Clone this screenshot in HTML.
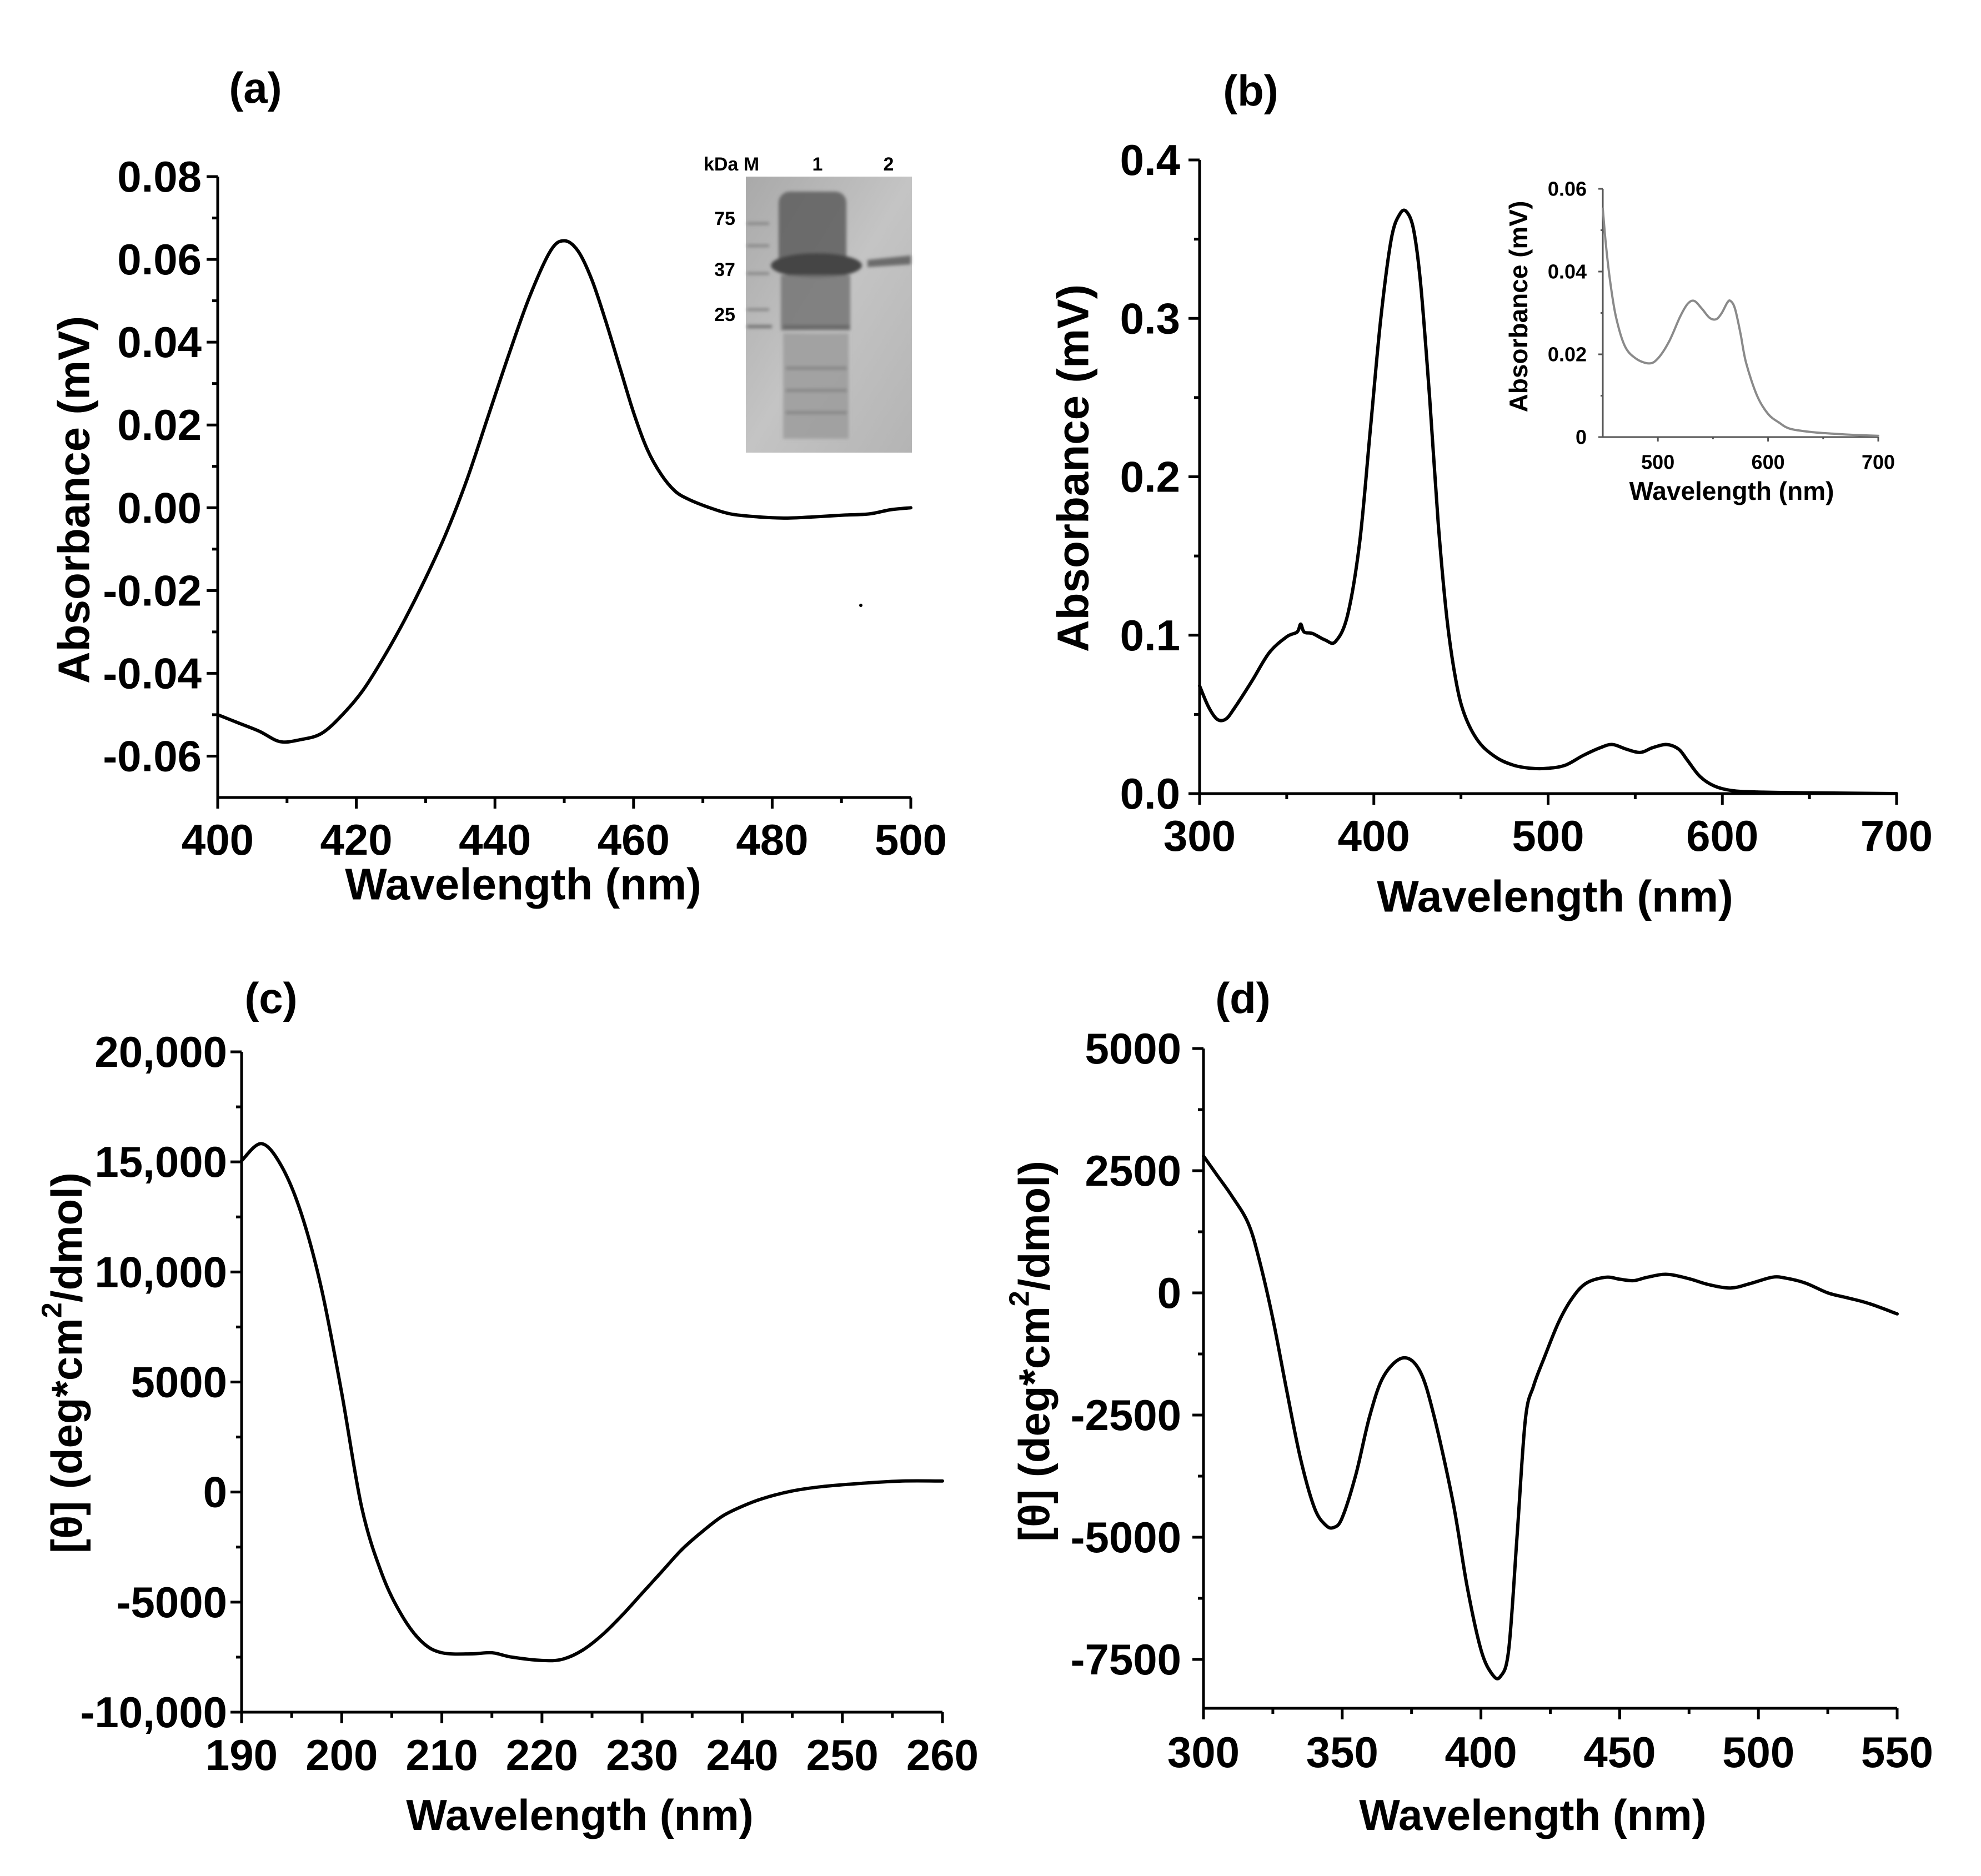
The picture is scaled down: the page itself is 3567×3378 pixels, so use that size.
<!DOCTYPE html>
<html><head><meta charset="utf-8"><style>
html,body{margin:0;padding:0;background:#fff;}
svg{display:block;}
text{font-family:"Liberation Sans",Arial,sans-serif;font-weight:bold;fill:#000;}
</style></head><body>
<svg id="fig" width="3567" height="3378" viewBox="0 0 3567 3378" xmlns="http://www.w3.org/2000/svg">
<rect x="0" y="0" width="3567" height="3378" fill="#fff"/>
<g id="gel">
  <defs>
    <linearGradient id="gelbg" x1="0" y1="0" x2="1" y2="1">
      <stop offset="0" stop-color="#a9a9a9"/><stop offset="0.5" stop-color="#c4c4c4"/><stop offset="1" stop-color="#b4b4b4"/>
    </linearGradient>
    <filter id="blur"><feGaussianBlur stdDeviation="3"/></filter>
  </defs>
  <rect x="1343" y="318" width="299" height="497" fill="url(#gelbg)"/>
  <g filter="url(#blur)">
    <rect x="1402" y="345" width="122" height="145" rx="20" fill="#5e5e5e" opacity="0.85"/>
    <ellipse cx="1470" cy="478" rx="82" ry="22" fill="#454545"/>
    <rect x="1406" y="495" width="125" height="100" fill="#767676" opacity="0.85"/>
    <rect x="1410" y="600" width="118" height="190" fill="#9a9a9a" opacity="0.8"/>
    <rect x="1410" y="585" width="120" height="8" fill="#6a6a6a"/>
    <rect x="1415" y="660" width="110" height="6" fill="#888"/>
    <rect x="1415" y="700" width="110" height="6" fill="#888"/>
    <rect x="1415" y="740" width="110" height="6" fill="#888"/>
    <rect x="1345" y="400" width="40" height="5" fill="#888"/>
    <rect x="1345" y="440" width="40" height="5" fill="#888"/>
    <rect x="1345" y="490" width="40" height="5" fill="#888"/>
    <rect x="1345" y="555" width="40" height="5" fill="#888"/>
    <rect x="1345" y="585" width="45" height="6" fill="#777"/>
    <path d="M1562 468 L1640 460 L1640 476 L1562 481 Z" fill="#6c6c6c"/>
  </g>
  <text x="1317" y="307" font-size="34" text-anchor="middle">kDa M</text>
  <text x="1472" y="307" font-size="34" text-anchor="middle">1</text>
  <text x="1600" y="307" font-size="34" text-anchor="middle">2</text>
  <text x="1305" y="405" font-size="34" text-anchor="middle">75</text>
  <text x="1305" y="497" font-size="34" text-anchor="middle">37</text>
  <text x="1305" y="578" font-size="34" text-anchor="middle">25</text>
</g>
<circle cx="1550" cy="1090" r="3" fill="#000"/>
</svg>
<script>
// ---- Panel (a) data ----
const aWavelength = [400,403,406,409,412,415,418,421,424,427,430,433,436,439,442,445,448,450,452,454,456,458,460,462,464,466,468,471,474,478,482,486,490,494,497,500];
const aAbsorbance = [-0.050,-0.052,-0.054,-0.0565,-0.056,-0.0545,-0.050,-0.044,-0.036,-0.027,-0.017,-0.006,0.007,0.022,0.037,0.051,0.062,0.0645,0.062,0.055,0.045,0.034,0.023,0.014,0.008,0.004,0.002,0.000,-0.0015,-0.0022,-0.0025,-0.0022,-0.0018,-0.0015,-0.0005,0.000];
const aXTicks = [400,420,440,460,480,500];
const aYTicks = [-0.06,-0.04,-0.02,0.00,0.02,0.04,0.06,0.08];
const aYTickLabels = ["-0.06","-0.04","-0.02","0.00","0.02","0.04","0.06","0.08"];
// ---- Panel (b) data ----
const bWavelength = [300,305,310,315,320,330,340,350,356,358,360,365,372,378,385,392,398,404,410,415,419,423,427,432,437,442,447,452,460,470,480,490,500,510,520,530,537,545,553,560,568,575,580,587,595,605,620,650,700];
const bAbsorbance = [0.068,0.055,0.047,0.047,0.054,0.071,0.089,0.099,0.102,0.107,0.102,0.101,0.097,0.096,0.113,0.160,0.230,0.300,0.350,0.366,0.367,0.355,0.320,0.250,0.170,0.110,0.072,0.050,0.033,0.023,0.018,0.016,0.016,0.018,0.024,0.029,0.031,0.028,0.026,0.029,0.031,0.028,0.021,0.011,0.005,0.002,0.001,0.0005,0.0];
const bXTicks = [300,400,500,600,700];
const bYTicks = [0.0,0.1,0.2,0.3,0.4];
const bYTickLabels = ["0.0","0.1","0.2","0.3","0.4"];
// ---- Panel (b) inset data ----
const iWavelength = [450,453,457,462,470,480,492,500,510,520,527,533,540,547,553,558,563,566,570,575,580,590,600,610,620,640,660,680,700];
const iAbsorbance = [0.0552,0.046,0.037,0.029,0.022,0.019,0.0178,0.019,0.023,0.029,0.0322,0.0329,0.031,0.0288,0.0285,0.030,0.0325,0.0329,0.031,0.025,0.018,0.010,0.0056,0.0035,0.002,0.0012,0.0008,0.0005,0.0003];
const iXTicks = [500,600,700];
const iYTicks = [0,0.02,0.04,0.06];
const iYTickLabels = ["0","0.02","0.04","0.06"];
// ---- Panel (c) data ----
const cWavelength = [190,192,194,196,198,200,202,204,206,208,210,213,215,217,220,222,224,226,228,230,232,234,236,238,240,242,245,248,252,256,260];
const cEllipticity = [15050,15830,14800,12600,9200,4500,-700,-3700,-5600,-6800,-7300,-7350,-7300,-7500,-7650,-7600,-7200,-6500,-5600,-4600,-3600,-2600,-1800,-1100,-650,-300,50,250,400,500,500];
const cXTicks = [190,200,210,220,230,240,250,260];
const cYTicks = [-10000,-5000,0,5000,10000,15000,20000];
const cYTickLabels = ["-10,000","-5000","0","5000","10,000","15,000","20,000"];
// ---- Panel (d) data ----
const dWavelength = [300,305,310,316,320,325,330,335,340,344,347,350,355,360,365,372,378,383,390,395,400,404,407,410,413,416,419,423,428,433,438,445,450,455,460,467,475,482,490,497,505,510,517,525,532,540,550];
const dEllipticity = [2800,2400,2000,1440,700,-530,-2000,-3400,-4400,-4750,-4800,-4600,-3700,-2500,-1700,-1330,-1600,-2500,-4300,-6000,-7300,-7800,-7850,-7300,-5000,-2600,-1900,-1300,-600,-100,200,320,280,250,320,380,290,170,100,190,320,300,200,0,-100,-220,-430];
const dXTicks = [300,350,400,450,500,550];
const dYTicks = [-7500,-5000,-2500,0,2500,5000];
const dYTickLabels = ["-7500","-5000","-2500","0","2500","5000"];

const NS = "http://www.w3.org/2000/svg";
const svg = document.getElementById('fig');
function mk(tag, attrs, parent){
  const e = document.createElementNS(NS, tag);
  for (const k in attrs) e.setAttribute(k, attrs[k]);
  (parent||svg).appendChild(e);
  return e;
}
function linScale(d0,d1,r0,r1){ return v => r0 + (v-d0)/(d1-d0)*(r1-r0); }
function smoothPath(pts){
  let d = "M" + pts[0][0].toFixed(1) + " " + pts[0][1].toFixed(1);
  for (let i=0;i<pts.length-1;i++){
    const p0 = pts[Math.max(0,i-1)], p1 = pts[i], p2 = pts[i+1], p3 = pts[Math.min(pts.length-1,i+2)];
    const c1x = p1[0]+(p2[0]-p0[0])/6, c1y = p1[1]+(p2[1]-p0[1])/6;
    const c2x = p2[0]-(p3[0]-p1[0])/6, c2y = p2[1]-(p3[1]-p1[1])/6;
    d += " C"+c1x.toFixed(1)+" "+c1y.toFixed(1)+" "+c2x.toFixed(1)+" "+c2y.toFixed(1)+" "+p2[0].toFixed(1)+" "+p2[1].toFixed(1);
  }
  return d;
}

function drawPanel(cfg){
  const g = mk('g', {});
  
  
  const sx = linScale(cfg.xd[0], cfg.xd[1], cfg.xr[0], cfg.xr[1]);
  const sy = linScale(cfg.yd[0], cfg.yd[1], cfg.yr[0], cfg.yr[1]);
  const sw = cfg.axisW, tl = cfg.tickLen, col = cfg.color;
  const xa = mk('line', {x1:cfg.xr[0]-sw/2, y1:cfg.yr[0], x2:cfg.xr[1], y2:cfg.yr[0], stroke:col, 'stroke-width':sw}, g);
  
  
  const ya = mk('line', {x1:cfg.xr[0], y1:cfg.yr[0]+sw/2, x2:cfg.xr[0], y2:cfg.yr[1], stroke:col, 'stroke-width':sw}, g);
  
  
  const xt = cfg.xTicks;
  for (let i=0;i<xt.length;i++){
    const x = sx(xt[i]);
    const t = mk('line', {x1:x, y1:cfg.yr[0], x2:x, y2:cfg.yr[0]+tl, stroke:col, 'stroke-width':sw}, g);
    
    
    if (i < xt.length-1){
      const xm = sx((xt[i]+xt[i+1])/2);
      const m = mk('line', {x1:xm, y1:cfg.yr[0], x2:xm, y2:cfg.yr[0]+tl*0.5, stroke:col, 'stroke-width':sw}, g);
      
      
    }
    const lb = mk('text', {x:x, y:cfg.xLabelY, 'font-size':cfg.tickFont, 'text-anchor':'middle', 'dominant-baseline':'central', fill:col}, g);
    lb.textContent = xt[i];
    
    
  }
  const yt = cfg.yTicks;
  for (let i=0;i<yt.length;i++){
    const y = sy(yt[i]);
    const t = mk('line', {x1:cfg.xr[0]-tl, y1:y, x2:cfg.xr[0], y2:y, stroke:col, 'stroke-width':sw}, g);
    
    
    if (i < yt.length-1){
      const ym = sy((yt[i]+yt[i+1])/2);
      const m = mk('line', {x1:cfg.xr[0]-tl*0.5, y1:ym, x2:cfg.xr[0], y2:ym, stroke:col, 'stroke-width':sw}, g);
      
      
    }
    const lb = mk('text', {x:cfg.yLabelX, y:y, 'font-size':cfg.tickFont, 'text-anchor':'end', 'dominant-baseline':'central', fill:col}, g);
    lb.textContent = cfg.yTickLabels[i];
    
    
  }
  const pts = cfg.xs.map((v,i)=>[sx(v), sy(cfg.ys[i])]);
  const p = mk('path', {d:smoothPath(pts), fill:'none', stroke:cfg.lineColor||col, 'stroke-width':cfg.lineW, 'stroke-linejoin':'round', 'stroke-linecap':'round'}, g);
  
  
  const xtit = mk('text', {x:cfg.xTitle[0], y:cfg.xTitle[1], 'font-size':cfg.titleFont, 'text-anchor':'middle', 'dominant-baseline':'central', fill:col}, g);
  xtit.textContent = 'Wavelength (nm)';
  
  
  const ytit = mk('text', {x:0, y:0, 'font-size':cfg.titleFont, 'text-anchor':'middle', 'dominant-baseline':'central', fill:col, transform:'translate('+cfg.yTitle[0]+','+cfg.yTitle[1]+') rotate(-90)'}, g);
  
  
  ytit.setAttribute('xml:space','preserve');
  if (cfg.theta){
    ytit.appendChild(document.createTextNode('[θ]  (deg*cm'));
    const sup = mk('tspan', {'font-size':cfg.titleFont*0.65, dy:-cfg.titleFont*0.35}, ytit);
    sup.textContent = '2';
    const rest = mk('tspan', {dy:cfg.titleFont*0.35}, ytit);
    rest.textContent = '/dmol)';
  } else {
    ytit.textContent = 'Absorbance  (mV)';
  }
  if (cfg.panelLabel){
    const pl = mk('text', {x:cfg.panelLabel[0], y:cfg.panelLabel[1], 'font-size':78, 'text-anchor':'middle', 'dominant-baseline':'central'}, g);
    pl.textContent = cfg.panelLabel[2];
    
    
  }
}

drawPanel({name:'panel-a', seriesName:'absorbance-curve-a', color:'#000', axisW:5, tickLen:20, lineW:6, tickFont:78, titleFont:80,
  xd:[400,500], xr:[392,1640], yd:[-0.07,0.08], yr:[1436,318],
  xTicks:aXTicks, yTicks:aYTicks, yTickLabels:aYTickLabels, xs:aWavelength, ys:aAbsorbance,
  xLabelY:1512, yLabelX:363, xTitle:[942,1592], yTitle:[133,900], panelLabel:[460,158,'(a)']});

drawPanel({name:'panel-b', seriesName:'absorbance-curve-b', color:'#000', axisW:5, tickLen:20, lineW:6, tickFont:78, titleFont:80,
  xd:[300,700], xr:[2160,3415], yd:[0,0.4], yr:[1429,288],
  xTicks:bXTicks, yTicks:bYTicks, yTickLabels:bYTickLabels, xs:bWavelength, ys:bAbsorbance,
  xLabelY:1505, yLabelX:2125, xTitle:[2800,1614], yTitle:[1932,843], panelLabel:[2252,163,'(b)']});

drawPanel({name:'panel-b-inset', seriesName:'absorbance-curve-inset', color:'#555', lineColor:'#8a8a8a', axisW:3, tickLen:8, lineW:4, tickFont:36, titleFont:46,
  xd:[450,700], xr:[2886,3382], yd:[0,0.06], yr:[787,340],
  xTicks:iXTicks, yTicks:iYTicks, yTickLabels:iYTickLabels, xs:iWavelength, ys:iAbsorbance,
  xLabelY:832, yLabelX:2857, xTitle:[3118,884], yTitle:[2734,552], panelLabel:null});

drawPanel({name:'panel-c', seriesName:'cd-curve-c', color:'#000', axisW:5, tickLen:20, lineW:6, tickFont:78, titleFont:78, theta:true,
  xd:[190,260], xr:[435,1697], yd:[-10000,20000], yr:[3083,1894],
  xTicks:cXTicks, yTicks:cYTicks, yTickLabels:cYTickLabels, xs:cWavelength, ys:cEllipticity,
  xLabelY:3160, yLabelX:409, xTitle:[1044,3268], yTitle:[120,2454], panelLabel:[488,1797,'(c)']});

drawPanel({name:'panel-d', seriesName:'cd-curve-d', color:'#000', axisW:5, tickLen:20, lineW:6, tickFont:78, titleFont:78, theta:true,
  xd:[300,550], xr:[2167,3416], yd:[-8500,5000], yr:[3076,1888],
  xTicks:dXTicks, yTicks:dYTicks, yTickLabels:dYTickLabels, xs:dWavelength, ys:dEllipticity,
  xLabelY:3155, yLabelX:2127, xTitle:[2760,3268], yTitle:[1862,2433], panelLabel:[2238,1797,'(d)']});
</script>
</body></html>
